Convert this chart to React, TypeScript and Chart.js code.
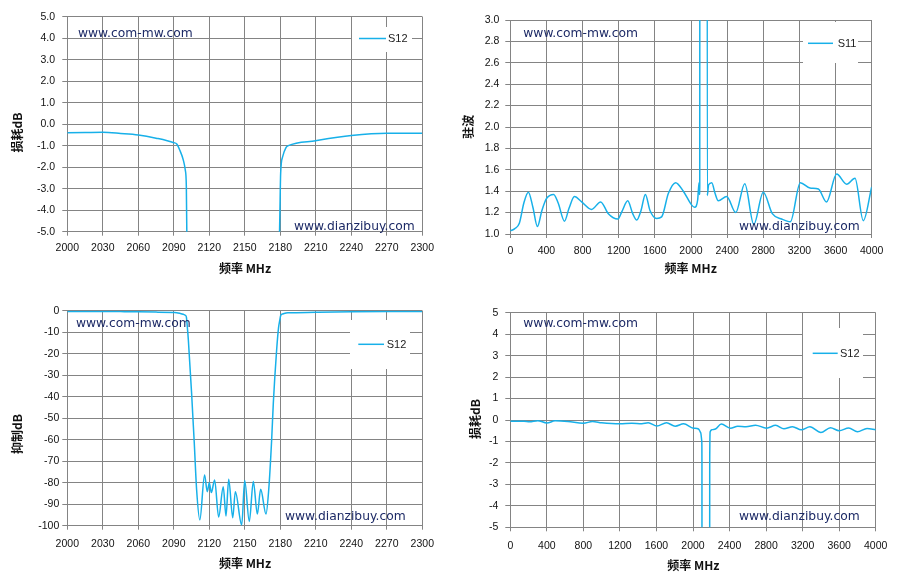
import { useEffect, useRef } from "react";
import { Chart, registerables } from "chart.js";

Chart.register(...registerables);

// ---------------- data ----------------
// Narrow-band S12 (2000-2300 MHz), used by the insertion-loss and rejection charts
const nbFreq = [
  2000, 2015, 2030, 2045, 2060, 2075, 2090, 2092.5, 2095, 2098, 2099.7, 2100.6, 2101.5,
  2102.3, 2105, 2107.3, 2109.3, 2112, 2116, 2118.3, 2120, 2121.7, 2124.5, 2127.9, 2131.8,
  2134.1, 2136.4, 2139.8, 2142, 2147.4, 2149.9, 2153.8, 2157.2, 2160.6, 2163.4, 2167.9,
  2170.2, 2172.7, 2174.1, 2176.9, 2178.5, 2179.7, 2180.3, 2182, 2184.8, 2186.8, 2210,
  2240, 2270, 2300,
];
const nbS12 = [
  -0.4, -0.39, -0.38, -0.43, -0.5, -0.65, -0.86, -0.92, -1.2, -1.66, -2.13, -2.9, -8,
  -13.6, -38, -61.5, -83.4, -97.3, -76.4, -84.2, -80, -84.6, -78.7, -96, -81.9,
  -95.5, -78.4, -96.3, -84.2, -99.7, -79, -98, -79.4, -94.6, -83.1, -94.6,
  -83.4, -60, -43, -18.3, -8, -4, -2.28, -1.51, -1.09, -1.0, -0.77,
  -0.53, -0.42, -0.42,
];

// Wide-band VSWR (0-4000 MHz)
const wbVswrFreq = [
  0, 50, 100, 150, 200, 250, 300, 350, 400, 480, 530, 600, 650, 710, 790, 900, 1000,
  1085, 1190, 1235, 1300, 1355, 1400, 1447, 1495, 1546, 1620, 1675, 1750, 1830, 1915,
  2008, 2040, 2074, 2089, 2093, 2097, 2100, 2176, 2180, 2195, 2230, 2266, 2302, 2395,
  2495, 2595, 2695, 2800, 2900, 3004, 3100, 3210, 3317, 3410, 3500, 3612, 3723, 3815,
  3907, 4000,
];
const wbVswr = [
  1.03, 1.05, 1.1, 1.29, 1.39, 1.25, 1.07, 1.22, 1.33, 1.37, 1.29, 1.12, 1.24, 1.35, 1.3,
  1.23, 1.3, 1.19, 1.14, 1.21, 1.31, 1.19, 1.13, 1.22, 1.37, 1.22, 1.145, 1.16, 1.38,
  1.48, 1.4, 1.27, 1.25, 1.32, 1.48, 1.37, 1.45, 12, 12, 1.36, 1.46, 1.48, 1.38, 1.31,
  1.35, 1.2, 1.47, 1.09, 1.39, 1.19, 1.14, 1.115, 1.48, 1.43, 1.42, 1.3, 1.56, 1.465,
  1.52, 1.125, 1.44,
];

// Wide-band S12 (0-4000 MHz)
const wbS12Freq = [
  0, 150, 210, 300, 400, 490, 630, 800, 900, 1000, 1200, 1330, 1440, 1510, 1605, 1710,
  1805, 1897, 2005, 2060, 2085, 2096, 2098, 2103, 2178, 2183, 2188, 2210, 2245, 2310,
  2410, 2490, 2580, 2685, 2805, 2905, 2995, 3090, 3185, 3280, 3400, 3505, 3600, 3705,
  3800, 3905, 4000,
];
const wbS12 = [
  -0.06, -0.06, -0.08, -0.03, -0.14, -0.04, -0.07, -0.15, -0.07, -0.13, -0.18, -0.15,
  -0.17, -0.13, -0.28, -0.13, -0.29, -0.18, -0.38, -0.42, -0.6, -0.97, -2, -60, -60, -2,
  -0.55, -0.45, -0.42, -0.19, -0.38, -0.29, -0.31, -0.24, -0.38, -0.25, -0.41, -0.31,
  -0.46, -0.32, -0.58, -0.36, -0.5, -0.37, -0.55, -0.4, -0.46,
];

// tick labels
const nbFreqTicks = [2000, 2030, 2060, 2090, 2120, 2150, 2180, 2210, 2240, 2270, 2300];
const wbFreqTicks = [0, 400, 800, 1200, 1600, 2000, 2400, 2800, 3200, 3600, 4000];
const lossNbTicks = [5, 4, 3, 2, 1, 0, -1, -2, -3, -4, -5];
const vswrTicks = [1.0, 1.2, 1.4, 1.6, 1.8, 2.0, 2.2, 2.4, 2.6, 2.8, 3.0];
const rejTicks = [0, -10, -20, -30, -40, -50, -60, -70, -80, -90, -100];
const lossWbTicks = [5, 4, 3, 2, 1, 0, -1, -2, -3, -4, -5];

const watermarkTop = "www.com-mw.com";
const watermarkBottom = "www.dianzibuy.com";

// ---------------- styles ----------------
const LINE = "#17b0e9";
const GRID = "#848484";
const TICK_FONT = "Liberation Sans";
const CJK = "'Noto Sans CJK SC'";

type Panel = {
  left: number; top: number; width: number; height: number;
  area: { l: number; t: number; r: number; b: number };
  xs: number[]; ys: number[]; label: string;
  xMin: number; xMax: number; xTicks: number[];
  yMin: number; yMax: number; yTicks: number[]; yDec: number;
  xTitle: string; yTitle: string;
  xTitlePos: [number, number]; yTitlePos: [number, number];
  xTickPad: number; yTickPad: number;
  legend: { box: [number, number, number, number]; line: [number, number, number]; textX: number };
  marks: [string, number, number][];
};

const panels: Panel[] = [
  {
    left: 0, top: 0, width: 450, height: 290,
    area: { l: 67.3, t: 16.7, r: 422.3, b: 231.7 },
    xs: nbFreq, ys: nbS12, label: "S12",
    xMin: 2000, xMax: 2300, xTicks: nbFreqTicks,
    yMin: -5, yMax: 5, yTicks: lossNbTicks, yDec: 1,
    xTitle: "频率 MHz", yTitle: "损耗dB",
    xTitlePos: [245, 268.3], yTitlePos: [17.3, 132.5],
    xTickPad: 6.3, yTickPad: 7.3,
    legend: { box: [352, 27, 60, 25], line: [359, 386, 38.5], textX: 388 },
    marks: [[watermarkTop, 78, 34.3], [watermarkBottom, 294, 226.7]],
  },
  {
    left: 450, top: 0, width: 449, height: 290,
    area: { l: 60.3, t: 20, r: 421.7, b: 234 },
    xs: wbVswrFreq, ys: wbVswr, label: "S11",
    xMin: 0, xMax: 4000, xTicks: wbFreqTicks,
    yMin: 1, yMax: 3, yTicks: vswrTicks, yDec: 1,
    xTitle: "频率 MHz", yTitle: "驻波",
    xTitlePos: [240.7, 268.3], yTitlePos: [18.3, 126.7],
    xTickPad: 6.4, yTickPad: 6,
    legend: { box: [353, 22, 55, 41], line: [358, 383, 43.3], textX: 387.7 },
    marks: [[watermarkTop, 73.3, 34.3], [watermarkBottom, 289, 226.7]],
  },
  {
    left: 0, top: 290, width: 450, height: 292,
    area: { l: 67.3, t: 20.7, r: 422.3, b: 235.7 },
    xs: nbFreq, ys: nbS12, label: "S12",
    xMin: 2000, xMax: 2300, xTicks: nbFreqTicks,
    yMin: -100, yMax: 0, yTicks: rejTicks, yDec: 0,
    xTitle: "频率 MHz", yTitle: "抑制dB",
    xTitlePos: [245, 273.3], yTitlePos: [17, 144],
    xTickPad: 8, yTickPad: 3,
    legend: { box: [350, 30, 60, 49], line: [358.3, 384, 54.3], textX: 386.7 },
    marks: [[watermarkTop, 76, 34], [watermarkBottom, 285, 226.7]],
  },
  {
    left: 450, top: 290, width: 449, height: 292,
    area: { l: 60.3, t: 22.7, r: 425.7, b: 237.3 },
    xs: wbS12Freq, ys: wbS12, label: "S12",
    xMin: 0, xMax: 4000, xTicks: wbFreqTicks,
    yMin: -5, yMax: 5, yTicks: lossWbTicks, yDec: 0,
    xTitle: "频率 MHz", yTitle: "损耗dB",
    xTitlePos: [243.3, 275], yTitlePos: [25.7, 129],
    xTickPad: 8.4, yTickPad: 7,
    legend: { box: [353, 38, 60, 50], line: [362.7, 387.7, 63.3], textX: 390 },
    marks: [[watermarkTop, 73.3, 34.3], [watermarkBottom, 289, 226.7]],
  },
];

function ChartPanel({ p }: { p: Panel }) {
  const ref = useRef<HTMLCanvasElement | null>(null);
  useEffect(() => {
    if (!ref.current) return;
    const overlay = {
      id: "overlay",
      afterDatasetsDraw(chart: any) {
        const ctx: CanvasRenderingContext2D = chart.ctx;
        ctx.save();
        // legend
        const [bx, by, bw, bh] = p.legend.box;
        ctx.fillStyle = "#ffffff";
        ctx.fillRect(bx, by, bw, bh);
        const [lx1, lx2, ly] = p.legend.line;
        ctx.strokeStyle = LINE;
        ctx.lineWidth = 1.5;
        ctx.beginPath();
        ctx.moveTo(lx1, ly);
        ctx.lineTo(lx2, ly);
        ctx.stroke();
        ctx.fillStyle = "#222222";
        ctx.font = `11px '${TICK_FONT}'`;
        ctx.textBaseline = "middle";
        ctx.textAlign = "left";
        ctx.fillText(chart.data.datasets[0].label, p.legend.textX, ly + 0.5);
        // watermarks
        ctx.fillStyle = "#1d2a66";
        ctx.font = "12.3px 'DejaVu Sans'";
        for (const [t, x, y] of p.marks) ctx.fillText(t, x, y);
        // axis titles
        ctx.fillStyle = "#111111";
        ctx.font = `bold 12px ${CJK}`;
        ctx.textAlign = "center";
        ctx.fillText(p.xTitle, p.xTitlePos[0], p.xTitlePos[1]);
        ctx.save();
        ctx.translate(p.yTitlePos[0], p.yTitlePos[1]);
        ctx.rotate(-Math.PI / 2);
        ctx.fillText(p.yTitle, 0, 0);
        ctx.restore();
        ctx.restore();
      },
    };
    const chart = new Chart(ref.current, {
      type: "line",
      data: {
        datasets: [
          {
            label: p.label,
            data: p.xs.map((x, i) => ({ x, y: p.ys[i] })),
            borderColor: LINE,
            backgroundColor: LINE,
            borderWidth: 1.5,
            pointRadius: 0,
            fill: false,
            cubicInterpolationMode: "monotone",
          },
        ],
      },
      options: {
        animation: false,
        responsive: false,
        devicePixelRatio: window.devicePixelRatio || 1,
        layout: { padding: { left: 0, top: p.area.t, right: p.width - p.area.r, bottom: 0 } },
        plugins: { legend: { display: false }, tooltip: { enabled: false } },
        scales: {
          x: {
            type: "linear",
            min: p.xMin,
            max: p.xMax,
            afterBuildTicks: (s: any) => {
              s.ticks = p.xTicks.map((v) => ({ value: v }));
            },
            afterFit: (s: any) => {
              s.height = p.height - p.area.b;
            },
            ticks: {
              autoSkip: false,
              maxRotation: 0,
              padding: p.xTickPad,
              color: "#111111",
              font: { family: TICK_FONT, size: 10.5 },
              callback: (v: any) => String(v),
            },
            grid: { color: GRID, lineWidth: 1, tickLength: 4 },
            border: { color: GRID, width: 1 },
          },
          y: {
            type: "linear",
            min: p.yMin,
            max: p.yMax,
            afterBuildTicks: (s: any) => {
              s.ticks = p.yTicks.map((v) => ({ value: v }));
            },
            afterFit: (s: any) => {
              s.width = p.area.l;
            },
            ticks: {
              autoSkip: false,
              padding: p.yTickPad,
              color: "#111111",
              font: { family: TICK_FONT, size: 10.5 },
              callback: (v: any) => Number(v).toFixed(p.yDec),
            },
            grid: { color: GRID, lineWidth: 1, tickLength: 5 },
            border: { color: GRID, width: 1 },
          },
        },
      },
      plugins: [overlay],
    } as any);
    return () => chart.destroy();
  }, [p]);
  return (
    <div
      style={{ position: "absolute", left: p.left, top: p.top, width: p.width, height: p.height }}
    >
      <canvas
        ref={ref}
        width={p.width}
        height={p.height}
        style={{ display: "block", width: p.width, height: p.height }}
      />
    </div>
  );
}

export default function App() {
  return (
    <div
      style={{
        position: "absolute",
        left: 0,
        top: 0,
        width: 899,
        height: 582,
        background: "#ffffff",
        overflow: "hidden",
      }}
    >
      {panels.map((p, i) => (
        <ChartPanel key={i} p={p} />
      ))}
    </div>
  );
}
